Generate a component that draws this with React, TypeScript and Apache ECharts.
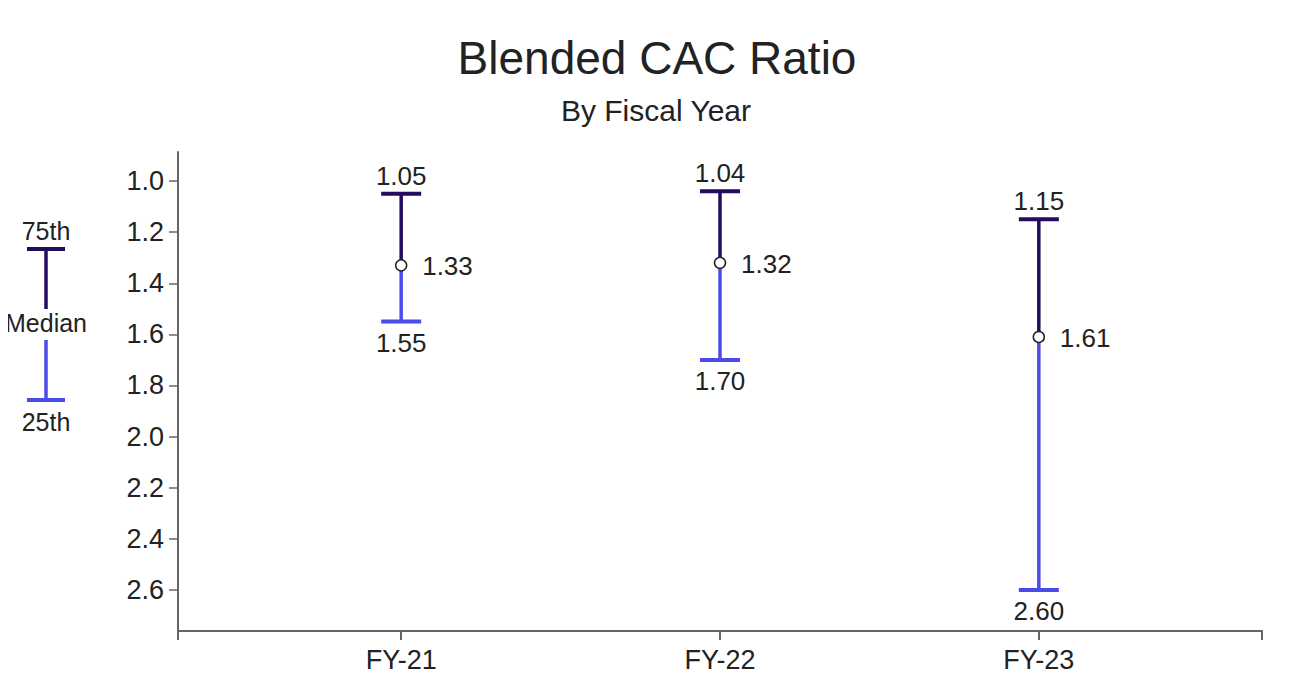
import React, { useEffect, useRef } from "react";
import * as echarts from "echarts";

const categories = ["FY-21", "FY-22", "FY-23"];
const p75 = [1.05, 1.04, 1.15];
const median = [1.33, 1.32, 1.61];
const p25 = [1.55, 1.7, 2.6];
const yTicks = [1.0, 1.2, 1.4, 1.6, 1.8, 2.0, 2.2, 2.4, 2.6];

const DARK = "#230b5e";
const BLUE = "#4b4be8";
const TEXT = "#222";
const FONT = "'Liberation Sans', Arial, Helvetica, sans-serif";

export default function App() {
  const ref = useRef<HTMLDivElement>(null);
  useEffect(() => {
    if (!ref.current) return;
    const chart = echarts.init(ref.current, null, { renderer: "svg" });
    const data = categories.map((_, i) => [i, p75[i], median[i], p25[i]]);
    const option: any = {
      animation: false,
      backgroundColor: "#fff",
      textStyle: { fontFamily: FONT },
      title: [
        {
          text: "Blended CAC Ratio",
          left: 652,
          top: 30,
          textAlign: "center",
          textStyle: { fontFamily: FONT, fontSize: 46, fontWeight: "normal", color: TEXT },
        },
        {
          text: "By Fiscal Year",
          left: 651,
          top: 90,
          textAlign: "center",
          textStyle: { fontFamily: FONT, fontSize: 30, fontWeight: "normal", color: TEXT },
        },
      ],
      grid: { left: 178, right: 30, top: 152, bottom: 69, containLabel: false },
      xAxis: {
        type: "value",
        min: -0.7,
        max: 2.7,
        splitLine: { show: false },
        axisLine: { show: true, onZero: false, lineStyle: { color: "#666", width: 2 } },
        axisTick: {
          show: true,
          length: 9,
          lineStyle: { color: "#666", width: 2 },
          customValues: [-0.7, 0, 1, 2, 2.7],
        },
        axisLabel: {
          customValues: [0, 1, 2],
          formatter: (v: number) => categories[Math.round(v)] ?? "",
          fontFamily: FONT,
          fontSize: 27,
          color: TEXT,
          margin: 15,
        },
      },
      yAxis: {
        type: "value",
        inverse: true,
        min: 0.8865,
        max: 2.7605,
        splitLine: { show: false },
        axisLine: { show: true, onZero: false, lineStyle: { color: "#666", width: 2 } },
        axisTick: {
          show: true,
          length: 9,
          lineStyle: { color: "#666", width: 1.5 },
          customValues: yTicks,
        },
        axisLabel: {
          customValues: yTicks,
          formatter: (v: number) => v.toFixed(1),
          fontFamily: FONT,
          fontSize: 27,
          color: TEXT,
          margin: 14,
        },
      },
      series: [
        {
          type: "custom",
          data,
          encode: { x: 0, y: [1, 2, 3] },
          renderItem: (params: any, api: any) => {
            const i = api.value(0);
            const top = api.coord([i, api.value(1)]);
            const mid = api.coord([i, api.value(2)]);
            const bot = api.coord([i, api.value(3)]);
            const cx = top[0];
            const half = 20;
            const font = { fontFamily: FONT, fontSize: 26, fill: TEXT };
            return {
              type: "group",
              children: [
                { type: "line", shape: { x1: cx, y1: top[1], x2: cx, y2: mid[1] }, style: { stroke: DARK, lineWidth: 3.5 } },
                { type: "line", shape: { x1: cx, y1: mid[1], x2: cx, y2: bot[1] }, style: { stroke: BLUE, lineWidth: 3.5 } },
                { type: "line", shape: { x1: cx - half, y1: top[1], x2: cx + half, y2: top[1] }, style: { stroke: DARK, lineWidth: 4 } },
                { type: "line", shape: { x1: cx - half, y1: bot[1], x2: cx + half, y2: bot[1] }, style: { stroke: BLUE, lineWidth: 4 } },
                { type: "circle", shape: { cx, cy: mid[1], r: 5.5 }, style: { fill: "#fff", stroke: "#222", lineWidth: 1.5 } },
                { type: "text", x: cx, y: top[1] - 18, style: { ...font, text: api.value(1).toFixed(2), align: "center", verticalAlign: "middle" } },
                { type: "text", x: cx, y: bot[1] + 21, style: { ...font, text: api.value(3).toFixed(2), align: "center", verticalAlign: "middle" } },
                { type: "text", x: cx + 21, y: mid[1] + 1, style: { ...font, text: api.value(2).toFixed(2), align: "left", verticalAlign: "middle" } },
              ],
            };
          },
        },
      ],
      graphic: [
        { type: "line", shape: { x1: 46, y1: 249, x2: 46, y2: 309 }, style: { stroke: DARK, lineWidth: 3.5 } },
        { type: "line", shape: { x1: 27, y1: 249, x2: 65, y2: 249 }, style: { stroke: DARK, lineWidth: 4 } },
        { type: "line", shape: { x1: 46, y1: 340, x2: 46, y2: 400 }, style: { stroke: BLUE, lineWidth: 3.5 } },
        { type: "line", shape: { x1: 27, y1: 400, x2: 65, y2: 400 }, style: { stroke: BLUE, lineWidth: 4 } },
        { type: "text", x: 46, y: 231, style: { text: "75th", fontFamily: FONT, fontSize: 25, fill: TEXT, align: "center", verticalAlign: "middle" } },
        { type: "text", x: 46, y: 323, style: { text: "Median", fontFamily: FONT, fontSize: 25, fill: TEXT, align: "center", verticalAlign: "middle" } },
        { type: "text", x: 46, y: 422, style: { text: "25th", fontFamily: FONT, fontSize: 25, fill: TEXT, align: "center", verticalAlign: "middle" } },
      ],
    };
    chart.setOption(option);
    return () => chart.dispose();
  }, []);
  return <div ref={ref} style={{ width: 1292, height: 700, margin: -8 }} />;
}
